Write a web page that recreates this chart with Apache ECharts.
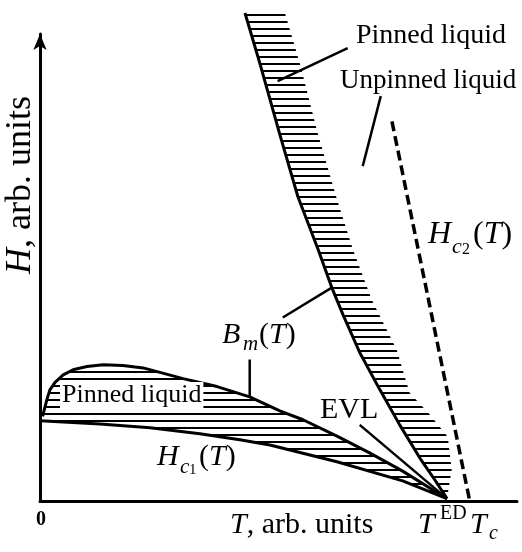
<!DOCTYPE html>
<html><head><meta charset="utf-8">
<script src="https://cdn.jsdelivr.net/npm/echarts@6/dist/echarts.min.js"></script>
<style>html,body{margin:0;padding:0;background:#fff}#c{width:522px;height:552px}</style>
</head><body><div id="c"></div>
<script>
// T (arb. units, Tc = 100) vs H (arb. units)
const bandLeft = [[47.7,104.5],[51.2,93.6],[55.8,78.5],[60.0,65.2],[64.7,53.9],[67.9,45.7],[70.5,39.9],[74.4,31.8],[79.1,23.8],[83.7,16.3],[88.4,9.2],[91.9,4.5],[94.7,0.5]];
const bandRight = [[57.0,104.5],[60.5,93.6],[64.7,78.5],[69.1,64.6],[72.8,53.9],[77.2,43.1],[83.0,32.4],[86.0,23.2],[90.7,18.5],[94.9,13.7],[95.8,6.7],[94.7,0.5]];
const bmLower = [[0.6,18.1],[1.6,21.7],[2.3,23.8],[3.5,25.4],[5.4,27.0],[7.7,28.1],[10.9,28.8],[14.7,29.2],[19.3,29.0],[24.0,28.5],[33.3,26.2],[41.2,24.5],[48.8,22.3],[55.8,19.3],[61.2,17.4],[69.1,13.9],[76.7,10.3],[84.4,6.4],[94.7,0.5]];
const hc1 = [[0,17.2],[14.0,16.5],[25.6,15.7],[37.2,14.4],[46.5,13.1],[53.5,12.0],[69.1,8.4],[84.4,4.3],[94.7,0.5]];
const hc2 = [[81.9,81.3],[100,0]];
const evl = [[74.4,16.3],[94.7,0.5]];
const ptrPinnedTop = [[71.6,97.0],[55.3,89.9]];
const ptrUnpinned = [[79.3,86.7],[75.1,71.7]];
const ptrBmUp = [[56.5,39.3],[67.9,45.7]];
const ptrBmDown = [[48.8,30.3],[48.8,22.3]];

function hatch(spacing, thick){
  const c = document.createElement('canvas'); c.width = 8; c.height = spacing;
  const g = c.getContext('2d'); g.fillStyle = '#000'; g.fillRect(0, 0, 8, thick);
  return c;
}
const pat = {image: hatch(7, 2), repeat: 'repeat'};

function polySeries(a, b){
  return {type:'custom', clip:false, silent:true, z:1, data:[[0,0]],
    renderItem: function(params, api){
      const pts = a.concat(b.slice().reverse()).map(p => api.coord(p));
      return {type:'polygon', shape:{points:pts}, style:{fill:pat, stroke:null}};
    }};
}
function lineS(data, w, extra){
  return Object.assign({type:'line', data:data, symbol:'none', clip:false, silent:true, z:3,
    lineStyle:{color:'#000', width:w}}, extra || {});
}
const F = '"Liberation Serif", "Times New Roman", serif';
function txt(s, x, y, size, opt){
  return {type:'text', x:x, y:y, z:100, style:Object.assign({text:s, fontSize:size, fontFamily:F, fill:'#000'}, opt||{})};
}
function ital(size){ return {i:{fontStyle:'italic', fontSize:size, fontFamily:F}}; }

const chart = echarts.init(document.getElementById('c'), null, {renderer:'canvas'});
chart.setOption({
  animation:false,
  backgroundColor:'#fff',
  grid:{left:40, right:5, top:34, bottom:51},
  xAxis:{type:'value', min:0, max:111, axisLine:{lineStyle:{color:'#000', width:3}},
    axisTick:{show:false}, axisLabel:{show:false}, splitLine:{show:false}},
  yAxis:{type:'value', min:0, max:100, axisLine:{show:true, symbol:['none','arrow'], symbolSize:[10,16], lineStyle:{color:'#000', width:3}},
    axisTick:{show:false}, axisLabel:{show:false}, splitLine:{show:false}},
  series:[
    polySeries(bandLeft, bandRight),
    polySeries(bmLower, hc1),
    lineS(bandLeft, 3),
    lineS(bmLower, 3),
    lineS(hc1, 3),
    lineS(evl, 2.5),
    lineS(hc2, 3.5, {lineStyle:{color:'#000', width:3.5, type:[10,5]}}),
    lineS(ptrPinnedTop, 2.5),
    lineS(ptrUnpinned, 2.5),
    lineS(ptrBmUp, 2.5),
    lineS(ptrBmDown, 2.5)
  ],
  graphic:[
    txt('Pinned liquid', 356, 22, 28),
    txt('Unpinned liquid', 340, 67, 27),
    {type:'text', rotation:Math.PI/2, x:21, y:185, z:100, style:{text:'{i|H}, arb. units', fontSize:36, fontFamily:F, fill:'#000', align:'center', verticalAlign:'middle', rich:ital(36)}},
    txt('H', 428, 219, 32, {fontStyle:'italic'}),
    txt('c', 452, 236, 22, {fontStyle:'italic'}),
    txt('2', 462, 242, 16),
    txt('({i|T})', 473, 219, 32, {rich:ital(32)}),
    txt('B', 222, 320, 30, {fontStyle:'italic'}),
    txt('m', 243, 334, 21, {fontStyle:'italic'}),
    txt('({i|T})', 259, 320, 30, {rich:ital(30)}),
    txt('H', 157, 442, 30, {fontStyle:'italic'}),
    txt('c', 180, 457, 21, {fontStyle:'italic'}),
    txt('1', 189, 463, 15),
    txt('({i|T})', 199, 442, 30, {rich:ital(30)}),
    txt('EVL', 320, 395, 30),
    txt('Pinned liquid', 60, 382, 26, {backgroundColor:'#fff', padding:[0,2,0,2]}),
    txt('0', 41, 520, 20, {fontWeight:'bold', align:'center', verticalAlign:'middle'}),
    txt('{i|T}, arb. units', 230, 510, 30, {rich:ital(30)}),
    txt('T', 418, 510, 30, {fontStyle:'italic'}),
    txt('ED', 440, 504, 20),
    txt('T', 470, 510, 30, {fontStyle:'italic'}),
    txt('c', 489, 524, 20, {fontStyle:'italic'})
  ]
});
</script></body></html>
